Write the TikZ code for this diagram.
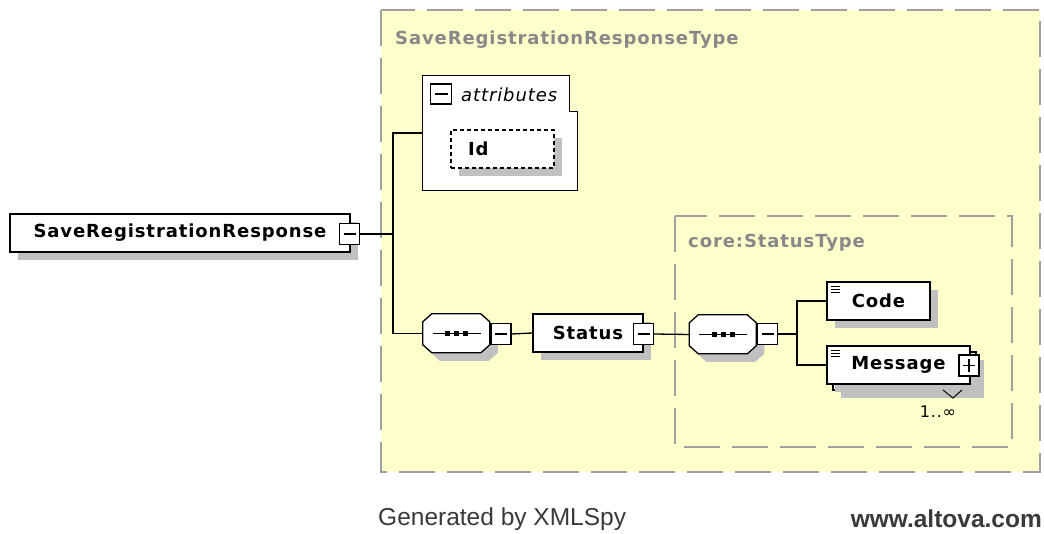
\documentclass[tikz,border=0pt]{standalone}
\usepackage{fontspec}
\usetikzlibrary{shadows,calc}
\newfontfamily\xsans[LetterSpace=5]{DejaVu Sans}
\newfontfamily\footsans{Liberation Sans}
\definecolor{typefill}{HTML}{FFFFCC}
\definecolor{typeline}{HTML}{A0A0A0}
\definecolor{typetext}{HTML}{888888}
\definecolor{shadowgray}{HTML}{C0C0C0}
\definecolor{foottext}{HTML}{3A3A3A}
\tikzset{
  wire/.style={draw=black, line width=1.3pt},
  dropshadow/.style={general shadow={fill=shadowgray, shadow xshift=8pt, shadow yshift=-8pt}},
  elembox/.style={rectangle, draw=black, line width=1.3pt, fill=white, inner sep=0pt,
    font=\xsans\bfseries\fontsize{18}{18}\selectfont, dropshadow},
  simplebox/.style={elembox, path picture={
      \foreach \dy in {4,7,10}
        \draw[line width=0.9pt] ([xshift=4pt,yshift=-\dy pt]path picture bounding box.north west)
          -- ++(9pt,0);}},
  typebox/.style={draw=typeline, line width=2pt, dash pattern=on 36pt off 12pt, fill=typefill},
  typetitle/.style={anchor=west, text=typetext, inner sep=0pt,
    font=\xsans\bfseries\fontsize{18}{18}\selectfont},
  toggle/.style={rectangle, draw=black, line width=1.1pt, fill=white, inner sep=0pt,
    minimum width=20pt, minimum height=21pt},
  minusbox/.style={toggle, path picture={
      \draw[line width=1.1pt] ([xshift=4pt]path picture bounding box.west)
        -- ([xshift=-4pt]path picture bounding box.east);}},
  plusbox/.style={toggle, path picture={
      \draw[line width=1.1pt] ([xshift=4pt]path picture bounding box.west)
        -- ([xshift=-4pt]path picture bounding box.east);
      \draw[line width=1.1pt] ([yshift=-4pt]path picture bounding box.north)
        -- ([yshift=4pt]path picture bounding box.south);}},
  seqframe/.style={rectangle, inner sep=0pt, minimum width=67pt, minimum height=39pt},
}
% octagonal sequence compositor drawn over the frame node #1
\newcommand\seqoctagon[1]{%
  \fill[shadowgray] ($(#1.north west)+(17,8)$) -- ++(49,0) -- ++(9,8) -- ++(0,23)
    -- ++(-9,8) -- ++(-49,0) -- ++(-9,-8) -- ++(0,-23) -- cycle;
  \draw[line width=1.3pt, fill=white] ($(#1.north west)+(9,0)$) -- ++(49,0) -- ++(9,8) -- ++(0,23)
    -- ++(-9,8) -- ++(-49,0) -- ++(-9,-8) -- ++(0,-23) -- cycle;
  \draw[line width=1.3pt] ($(#1.center)+(-24,0)$) -- ($(#1.center)+(24,0)$);
  \foreach \dx in {-9,0,9}
    \fill ($(#1.center)+(\dx-2.5,-2.3)$) rectangle ++(5,4.6);
}
\begin{document}
\begin{tikzpicture}[x=1pt,y=-1pt]
\useasboundingbox (0,0) rectangle (1044,534);
\fill[white] (0,0) rectangle (1044,534);

% complex type regions
\path[typebox] (381,10) rectangle (1040,472);
\node[typetitle] (outertitle) at (395,40) {SaveRegistrationResponseType};
\path[typebox] (675,216) rectangle (1012,447);
\node[typetitle] (innertitle) at (688,243) {core:StatusType};

% root element
\node[elembox, minimum width=340pt, minimum height=38pt] (root) at (180,233) {SaveRegistrationResponse};
\node[minusbox] (rootx) at (349.5,234) {};

% attributes group
\node[inner sep=0pt, minimum width=154pt, minimum height=114pt] (attr) at (500,133) {};
\draw[line width=1.3pt, fill=white]
  (attr.north west) -- ($(attr.north east)+(-8,0)$) -- ($(attr.north east)+(-8,36)$)
  -- ($(attr.north east)+(0,36)$) -- (attr.south east) -- (attr.south west) -- cycle;
\node[minusbox, minimum width=21pt, minimum height=20pt] (attrx) at (441,94) {};
\node[anchor=west, inner sep=0pt, font=\xsans\itshape\fontsize{18}{18}\selectfont] (attrlabel) at (461,95) {attributes};
\node[elembox, dash pattern=on 4pt off 3pt, minimum width=103pt, minimum height=38pt,
      text width=69pt, align=left] (id) at (502.5,149) {Id};

% sequence with Status
\node[seqframe] (seq1) at (456.5,333.5) {};
\seqoctagon{seq1}
\node[minusbox] (seq1x) at (501,334) {};
\node[elembox, minimum width=110pt, minimum height=38pt] (status) at (588,333) {Status};
\node[minusbox] (statusx) at (643.5,334) {};

% inner sequence of core:StatusType
\node[seqframe] (seq2) at (723,334.5) {};
\seqoctagon{seq2}
\node[minusbox] (seq2x) at (767.5,334) {};
\node[simplebox, minimum width=103pt, minimum height=38pt] (code) at (878.5,301) {Code};
\node[rectangle, draw=black, line width=1.3pt, fill=white, minimum width=143pt, minimum height=38pt,
      dropshadow] (msgback) at (904.5,371) {};
\node[simplebox, general shadow={fill=none, draw=none}, minimum width=143pt, minimum height=38pt] (msg) at (898.5,365) {Message};
\node[plusbox] (msgx) at (969,365.5) {};
\coordinate (vtip) at (953,398);
\draw[line width=1pt] ($(vtip)+(-10,-8)$) -- (vtip) -- ($(vtip)+(9,-8)$);
\node[font=\xsans\fontsize{16}{16}\selectfont, inner sep=0pt] (occurs) at (938,412) {1..∞};

% connectors
\coordinate (j1) at (393,234);
\coordinate (j2) at (797,334);
\draw[wire] (rootx.east) -- (j1);
\draw[wire] (j1) |- (attr.west);
\draw[wire] (j1) |- (seq1.west);
\draw[wire] (seq1x.east) -- (status.west);
\draw[wire] (statusx.east) -- (seq2.west);
\draw[wire] (seq2x.east) -- (j2);
\draw[wire] (j2) |- (code.west);
\draw[wire] (j2) |- (msg.west);

% footer
\node[anchor=west, inner sep=0pt, text=foottext, font=\footsans\fontsize{24.5}{24.5}\selectfont] (gen) at (378,519) {Generated by XMLSpy};
\node[anchor=east, inner sep=0pt, text=foottext, font=\footsans\bfseries\fontsize{24.5}{24.5}\selectfont] (site) at (1042,519) {www.altova.com};
\end{tikzpicture}
\end{document}
